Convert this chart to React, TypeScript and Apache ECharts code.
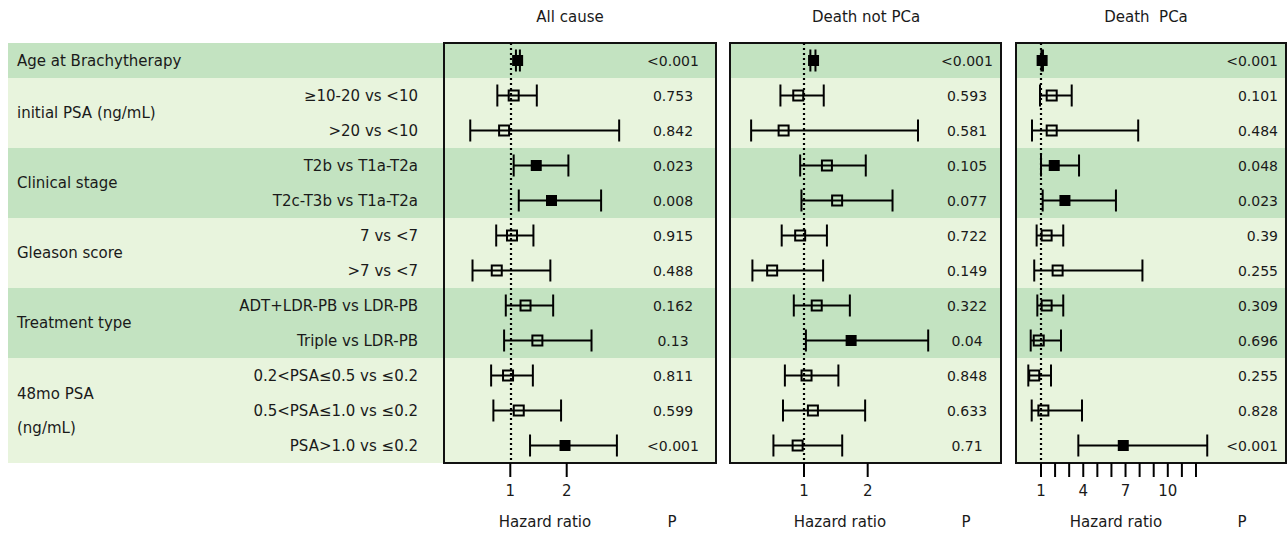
import React, { useEffect, useRef } from "react";
import * as echarts from "echarts";

// ---------- data ----------
const groupNames = [
  "Age at Brachytherapy",
  "initial PSA (ng/mL)",
  "Clinical stage",
  "Gleason score",
  "Treatment type",
  "48mo PSA\n(ng/mL)",
];
const groupSizes = [1, 2, 2, 2, 2, 3];
const rowLabels = [
  "",
  "≥10-20 vs <10",
  ">20 vs <10",
  "T2b vs T1a-T2a",
  "T2c-T3b vs T1a-T2a",
  "7 vs <7",
  ">7 vs <7",
  "ADT+LDR-PB vs LDR-PB",
  "Triple vs LDR-PB",
  "0.2<PSA≤0.5 vs ≤0.2",
  "0.5<PSA≤1.0 vs ≤0.2",
  "PSA>1.0 vs ≤0.2",
];

const panelTitles = ["All cause", "Death not PCa", "Death  PCa"];

const allCauseHR = [1.13, 1.06, 0.89, 1.46, 1.73, 1.03, 0.76, 1.27, 1.48, 0.96, 1.15, 1.97];
const allCauseLow = [1.1, 0.77, 0.29, 1.06, 1.15, 0.75, 0.33, 0.92, 0.89, 0.66, 0.7, 1.35];
const allCauseHigh = [1.17, 1.47, 2.93, 2.03, 2.61, 1.41, 1.71, 1.76, 2.44, 1.4, 1.9, 2.89];
const allCauseP = ["<0.001", "0.753", "0.842", "0.023", "0.008", "0.915", "0.488", "0.162", "0.13", "0.811", "0.599", "<0.001"];

const notPcaHR = [1.15, 0.91, 0.68, 1.36, 1.52, 0.94, 0.5, 1.2, 1.74, 1.04, 1.14, 0.9];
const notPcaLow = [1.1, 0.63, 0.17, 0.94, 0.96, 0.65, 0.19, 0.84, 1.03, 0.7, 0.67, 0.52];
const notPcaHigh = [1.18, 1.31, 2.79, 1.97, 2.39, 1.36, 1.3, 1.72, 2.95, 1.54, 1.96, 1.6];
const notPcaP = ["<0.001", "0.593", "0.581", "0.105", "0.077", "0.722", "0.149", "0.322", "0.04", "0.848", "0.633", "0.71"];

const pcaHR = [1.08, 1.76, 1.76, 1.94, 2.7, 1.4, 2.18, 1.4, 0.84, 0.52, 1.17, 6.84];
const pcaLow = [1.03, 0.93, 0.36, 1.0, 1.12, 0.69, 0.52, 0.74, 0.27, 0.1, 0.34, 3.65];
const pcaHigh = [1.14, 3.18, 7.9, 3.7, 6.32, 2.58, 8.2, 2.58, 2.42, 1.71, 3.91, 12.8];
const pcaP = ["<0.001", "0.101", "0.484", "0.048", "0.023", "0.39", "0.255", "0.309", "0.696", "0.255", "0.828", "<0.001"];

const allCauseTicks = [1, 2];
const allCauseTickLabels = [1, 2];
const notPcaTicks = [1, 2];
const notPcaTickLabels = [1, 2];
const pcaTicks = [1, 2, 3, 4, 5, 6, 7, 8, 9, 10, 11, 12];
const pcaTickLabels = [1, 4, 7, 10];

// ---------- layout / style ----------
const FONT = "DejaVu Sans";
const TEXT = "#1a1a1a";
const DARK = "#c3e3c1";
const LIGHT = "#e8f4dd";
const TOP = 43;
const HEIGHT = 420;
const ROWS = rowLabels.length;

const panels = [
  {
    title: panelTitles[0], hr: allCauseHR, lo: allCauseLow, hi: allCauseHigh, p: allCauseP,
    ticks: allCauseTicks, tickLabels: allCauseTickLabels,
    left: 444, width: 272, min: -0.1755, max: 4.647,
    titleX: 570, hrX: 545, pHeadX: 672, pX: 673, pAlign: "center",
  },
  {
    title: panelTitles[1], hr: notPcaHR, lo: notPcaLow, hi: notPcaHigh, p: notPcaP,
    ticks: notPcaTicks, tickLabels: notPcaTickLabels,
    left: 730, width: 271, min: -0.1617, max: 4.093,
    titleX: 866, hrX: 840, pHeadX: 966, pX: 967, pAlign: "center",
  },
  {
    title: panelTitles[2], hr: pcaHR, lo: pcaLow, hi: pcaHigh, p: pcaP,
    ticks: pcaTicks, tickLabels: pcaTickLabels,
    left: 1016, width: 270, min: -0.774, max: 18.39,
    titleX: 1146, hrX: 1116, pHeadX: 1242, pX: 1278, pAlign: "right",
  },
];

function bandData() {
  let start = 0;
  return groupSizes.map((n, i) => {
    const d = [start, start + n, i % 2];
    start += n;
    return d;
  });
}

function bandSeries(gridIndex: number, inset: number) {
  return {
    type: "custom",
    xAxisIndex: gridIndex,
    yAxisIndex: gridIndex,
    silent: true,
    z: 1,
    data: bandData(),
    renderItem: (params: any, api: any) => {
      const cs = params.coordSys;
      const s = api.value(0);
      const e = api.value(1);
      const k = api.value(2);
      let y0 = api.coord([0, s])[1];
      let y1 = api.coord([0, e])[1];
      if (s === 0) y0 += inset;
      if (e === ROWS) y1 -= inset;
      return {
        type: "rect",
        shape: { x: cs.x + inset, y: y0, width: cs.width - 2 * inset, height: y1 - y0 },
        style: { fill: k ? LIGHT : DARK },
      };
    },
  };
}

export default function App() {
  const ref = useRef<HTMLDivElement>(null);

  useEffect(() => {
    document.body.style.margin = "0";
    if (!ref.current) return;
    const chart = echarts.init(ref.current, null, { renderer: "svg" });

    const grids: any[] = [{ left: 8, width: 435, top: TOP, height: HEIGHT, show: false }];
    const xAxes: any[] = [{ type: "value", gridIndex: 0, min: 0, max: 1, show: false }];
    const yAxes: any[] = [];
    for (let g = 0; g < 4; g++) {
      yAxes.push({ type: "value", gridIndex: g, min: 0, max: ROWS, inverse: true, show: false });
    }
    const series: any[] = [bandSeries(0, 0)];

    // left labels: groups
    let st = 0;
    const groupData = groupSizes.map((n) => {
      const d = [st, n];
      st += n;
      return d;
    });
    series.push({
      type: "custom",
      xAxisIndex: 0,
      yAxisIndex: 0,
      silent: true,
      z: 3,
      data: groupData,
      renderItem: (params: any, api: any) => {
        const cs = params.coordSys;
        const s = api.value(0);
        const n = api.value(1);
        const y = api.coord([0, s + n / 2])[1];
        return {
          type: "text",
          style: {
            x: cs.x + 9,
            y: y,
            text: groupNames[params.dataIndex],
            fill: TEXT,
            font: `15px "${FONT}"`,
            align: "left",
            verticalAlign: "middle",
            lineHeight: 34,
          },
        };
      },
    });
    series.push({
      type: "custom",
      xAxisIndex: 0,
      yAxisIndex: 0,
      silent: true,
      z: 3,
      data: rowLabels.map((_, i) => [i]),
      renderItem: (params: any, api: any) => {
        const cs = params.coordSys;
        const r = api.value(0);
        const y = api.coord([0, r + 0.5])[1];
        return {
          type: "text",
          style: {
            x: cs.x + cs.width - 25,
            y: y,
            text: rowLabels[params.dataIndex],
            fill: TEXT,
            font: `15px "${FONT}"`,
            align: "right",
            verticalAlign: "middle",
          },
        };
      },
    });

    const graphics: any[] = [];

    panels.forEach((pn, pi) => {
      const g = pi + 1;
      grids.push({
        left: pn.left,
        width: pn.width,
        top: TOP,
        height: HEIGHT,
        show: true,
        borderColor: "#111",
        borderWidth: 2,
        backgroundColor: "transparent",
      });
      xAxes.push({
        type: "value",
        gridIndex: g,
        min: pn.min,
        max: pn.max,
        position: "bottom",
        splitLine: { show: false },
        axisLine: { show: false },
        axisTick: { show: false },
        axisLabel: {
          show: true,
          customValues: pn.tickLabels,
          margin: 20,
          color: TEXT,
          fontSize: 15,
          fontFamily: FONT,
        },
      });
      series.push(bandSeries(g, 1));

      // axis ticks drawn from the tick value list
      series.push({
        type: "custom",
        xAxisIndex: g,
        yAxisIndex: g,
        silent: true,
        clip: false,
        z: 4,
        data: pn.ticks.map((t) => [t]),
        renderItem: (params: any, api: any) => {
          const cs = params.coordSys;
          const x = api.coord([api.value(0), 0])[0];
          const yb = cs.y + cs.height;
          return {
            type: "line",
            shape: { x1: x, y1: yb, x2: x, y2: yb + 14 },
            style: { stroke: "#000", lineWidth: 2 },
          };
        },
      });

      const ciData = pn.hr.map((v, i) => {
        const ps = pn.p[i];
        const sig = ps.startsWith("<") || parseFloat(ps) < 0.05 ? 1 : 0;
        return [i, v, pn.lo[i], pn.hi[i], sig];
      });
      series.push({
        type: "custom",
        xAxisIndex: g,
        yAxisIndex: g,
        silent: true,
        z: 4,
        data: ciData,
        renderItem: (params: any, api: any) => {
          const r = api.value(0);
          const c = api.coord([api.value(1), r + 0.5]);
          const l = api.coord([api.value(2), r + 0.5]);
          const h = api.coord([api.value(3), r + 0.5]);
          const sig = api.value(4);
          const y = c[1];
          const ls = { stroke: "#000", lineWidth: 2 };
          const children: any[] = [
            { type: "line", shape: { x1: l[0], y1: y, x2: h[0], y2: y }, style: ls },
            { type: "line", shape: { x1: l[0], y1: y - 11, x2: l[0], y2: y + 11 }, style: ls },
            { type: "line", shape: { x1: h[0], y1: y - 11, x2: h[0], y2: y + 11 }, style: ls },
          ];
          if (sig) {
            children.push({
              type: "rect",
              shape: { x: c[0] - 5.5, y: y - 5.5, width: 11, height: 11 },
              style: { fill: "#000" },
            });
          } else {
            children.push({
              type: "rect",
              shape: { x: c[0] - 5, y: y - 5, width: 10, height: 10 },
              style: { fill: "none", stroke: "#000", lineWidth: 2 },
            });
          }
          return { type: "group", children };
        },
        markLine: {
          silent: true,
          symbol: ["none", "none"],
          label: { show: false },
          lineStyle: { color: "#000", type: [2, 3], width: 2.2 },
          data: [{ xAxis: 1 }],
        },
      });

      series.push({
        type: "custom",
        xAxisIndex: g,
        yAxisIndex: g,
        silent: true,
        z: 4,
        data: pn.p.map((_, i) => [i]),
        renderItem: (params: any, api: any) => {
          const r = api.value(0);
          const y = api.coord([1, r + 0.5])[1];
          return {
            type: "text",
            style: {
              x: pn.pX,
              y: y,
              text: pn.p[params.dataIndex],
              fill: TEXT,
              font: `14px "${FONT}"`,
              align: pn.pAlign,
              verticalAlign: "middle",
            },
          };
        },
      });

      graphics.push(
        {
          type: "text",
          x: pn.titleX,
          y: 17,
          style: { text: pn.title, fill: TEXT, font: `15px "${FONT}"`, align: "center", verticalAlign: "middle" },
        },
        {
          type: "text",
          x: pn.hrX,
          y: 522,
          style: { text: "Hazard ratio", fill: TEXT, font: `15px "${FONT}"`, align: "center", verticalAlign: "middle" },
        },
        {
          type: "text",
          x: pn.pHeadX,
          y: 522,
          style: { text: "P", fill: TEXT, font: `15px "${FONT}"`, align: "center", verticalAlign: "middle" },
        }
      );
    });

    chart.setOption({
      animation: false,
      backgroundColor: "#fff",
      textStyle: { fontFamily: FONT },
      grid: grids,
      xAxis: xAxes,
      yAxis: yAxes,
      series,
      graphic: graphics,
    });

    return () => chart.dispose();
  }, []);

  return <div ref={ref} style={{ width: 1287, height: 534 }} />;
}
